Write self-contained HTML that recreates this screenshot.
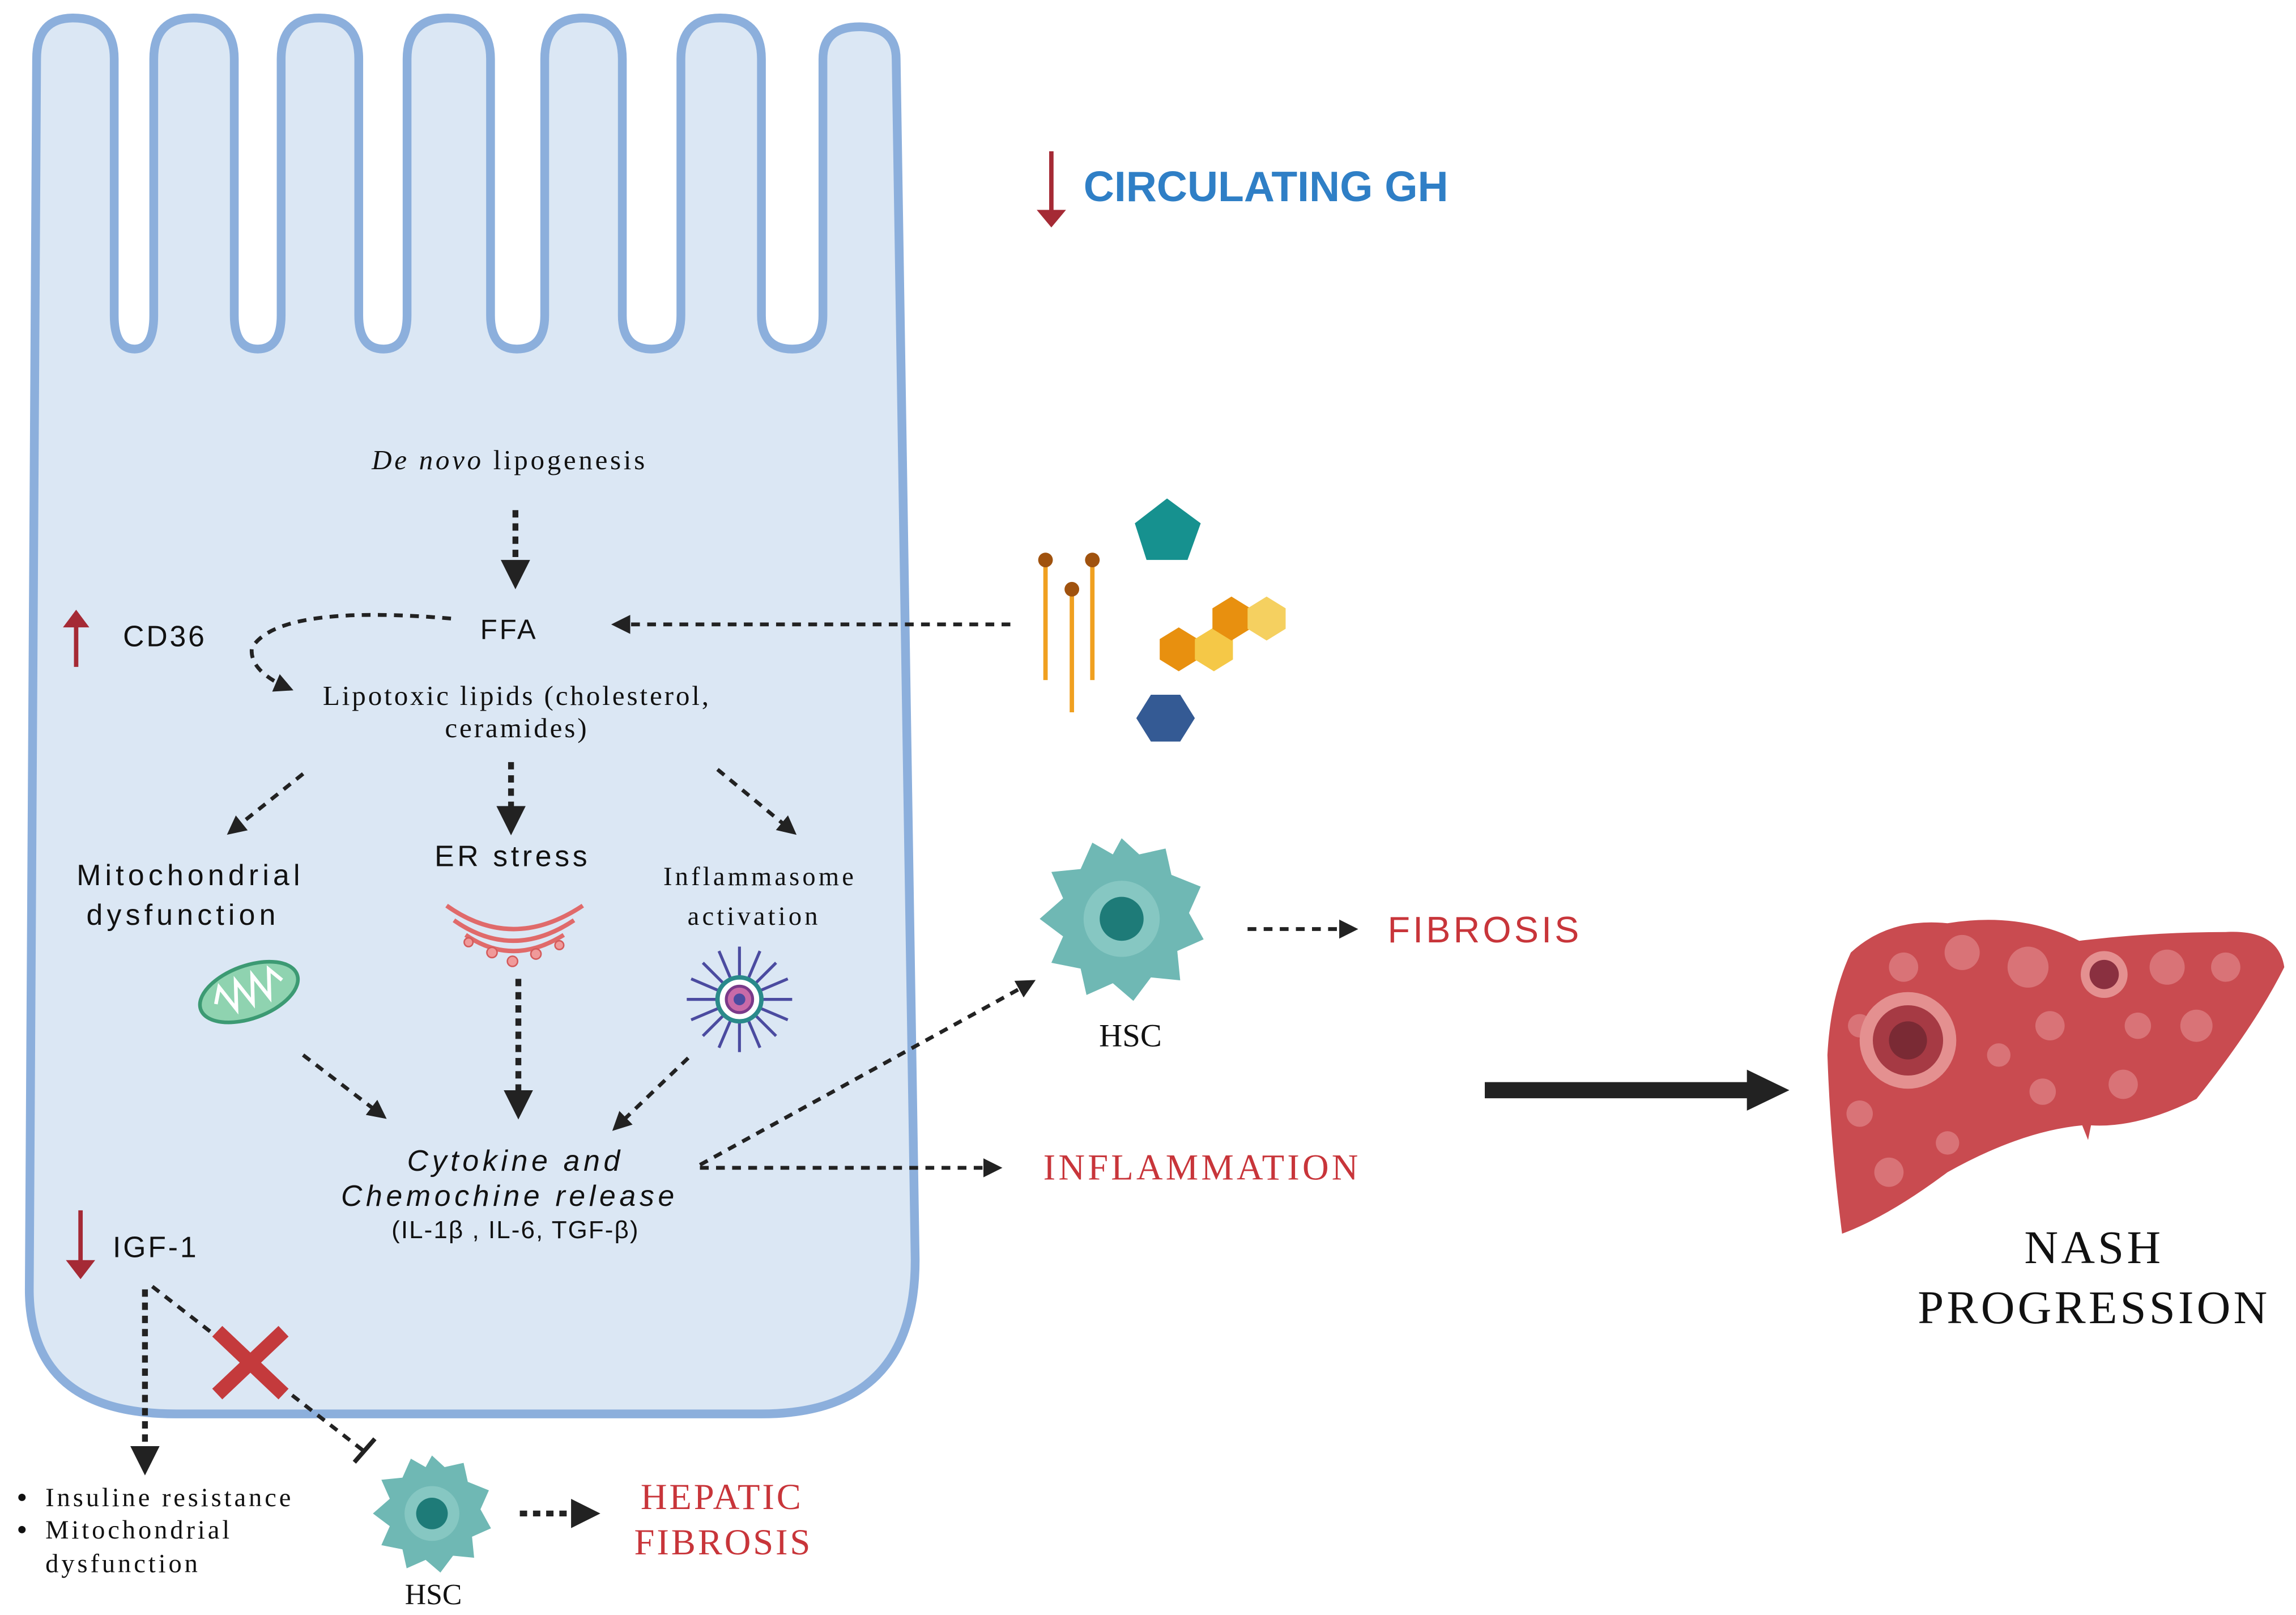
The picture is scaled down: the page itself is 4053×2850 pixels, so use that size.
<!DOCTYPE html>
<html><head><meta charset="utf-8"><style>html,body{margin:0;padding:0;background:#fff}svg{display:block}</style></head>
<body>
<svg width="4053" height="2850" viewBox="0 0 1568 1102" xmlns="http://www.w3.org/2000/svg">
<defs>
<marker id="ah" viewBox="0 0 10 10" refX="8" refY="5" markerWidth="5" markerHeight="5" orient="auto-start-reverse"><path d="M0,0 L10,5 L0,10 z" fill="#222"/></marker>
</defs>
<!-- cell -->
<path d="M20 880 L25 40 Q25 12 50 12 Q78 12 78 40 L78 215 Q78 238 92 238 Q105 238 105 215 L105 40 Q105 12 132 12 Q160 12 160 40 L160 215 Q160 238 176 238 Q192 238 192 215 L192 40 Q192 12 218 12 Q245 12 245 40 L245 215 Q245 238 262 238 Q278 238 278 215 L278 40 Q278 12 306 12 Q335 12 335 40 L335 215 Q335 238 353 238 Q372 238 372 215 L372 40 Q372 12 398 12 Q425 12 425 40 L425 215 Q425 238 445 238 Q465 238 465 215 L465 40 Q465 12 492 12 Q520 12 520 40 L520 215 Q520 238 541 238 Q562 238 562 215 L562 40 Q562 18 587 18 Q612 18 612 40 L625 860 Q625 965 520 965 L120 965 Q20 965 20 880 Z" fill="#dbe7f4" stroke="#8cafdc" stroke-width="6"/>

<g font-family="Liberation Serif, serif" fill="#111">
<text x="348" y="320" font-size="19" text-anchor="middle" letter-spacing="1.8"><tspan font-style="italic">De novo</tspan> lipogenesis</text>
<text x="353" y="481" font-size="19" text-anchor="middle" letter-spacing="1.5">Lipotoxic lipids (cholesterol,</text>
<text x="353" y="503" font-size="19" text-anchor="middle" letter-spacing="1.5">ceramides)</text>
<text x="519" y="604" font-size="18" text-anchor="middle" letter-spacing="2">Inflammasome</text>
<text x="515" y="631" font-size="18" text-anchor="middle" letter-spacing="2">activation</text>
<text x="772" y="714" font-size="22" text-anchor="middle">HSC</text>
<text x="296" y="1095" font-size="20" text-anchor="middle">HSC</text>
<text x="821" y="805" font-size="25" fill="#c8353a" text-anchor="middle" letter-spacing="2">INFLAMMATION</text>
<text x="493" y="1030" font-size="25" fill="#c8353a" text-anchor="middle" letter-spacing="1.5">HEPATIC</text>
<text x="494" y="1061" font-size="25" fill="#c8353a" text-anchor="middle" letter-spacing="1.5">FIBROSIS</text>
<text x="1430" y="862" font-size="32" text-anchor="middle" letter-spacing="2">NASH</text>
<text x="1430" y="903" font-size="32" text-anchor="middle" letter-spacing="2">PROGRESSION</text>
<text x="31" y="1028" font-size="18" letter-spacing="1.9">Insuline resistance</text>
<text x="31" y="1050" font-size="18" letter-spacing="1.9">Mitochondrial</text>
<text x="31" y="1073" font-size="18" letter-spacing="1.9">dysfunction</text>
<circle cx="15" cy="1022" r="2.5" fill="#111"/><circle cx="15" cy="1044" r="2.5" fill="#111"/>
</g>
<g font-family="Liberation Sans, sans-serif" fill="#111">
<text x="84" y="441" font-size="20" letter-spacing="1.5">CD36</text>
<text x="328" y="436" font-size="19" letter-spacing="1.5">FFA</text>
<text x="130" y="604" font-size="20" text-anchor="middle" letter-spacing="2.8">Mitochondrial</text>
<text x="125" y="631" font-size="20" text-anchor="middle" letter-spacing="2.8">dysfunction</text>
<text x="350" y="591" font-size="20" text-anchor="middle" letter-spacing="2.2">ER stress</text>
<text x="352" y="799" font-size="20" text-anchor="middle" font-style="italic" letter-spacing="2.6">Cytokine and</text>
<text x="348" y="823" font-size="20" text-anchor="middle" font-style="italic" letter-spacing="2.6">Chemochine release</text>
<text x="352" y="845" font-size="17" text-anchor="middle" letter-spacing="0.8">(IL-1β , IL-6, TGF-β)</text>
<text x="77" y="858" font-size="20" letter-spacing="1.5">IGF-1</text>
<text x="1014" y="643" font-size="25" fill="#c8353a" text-anchor="middle" letter-spacing="2">FIBROSIS</text>
<text x="740" y="137" font-size="29" font-weight="bold" fill="#2f7fc6">CIRCULATING GH</text>
</g>

<!-- red arrows -->
<g stroke="#a52a35" stroke-width="3" fill="#a52a35">
<line x1="718" y1="103" x2="718" y2="145"/><path d="M708,143 L728,143 L718,155 Z" stroke="none"/>
<line x1="52" y1="455" x2="52" y2="425"/><path d="M43,428 L61,428 L52,416 Z" stroke="none"/>
<line x1="55" y1="826" x2="55" y2="862"/><path d="M45,860 L65,860 L55,873 Z" stroke="none"/>
</g>

<!-- dashed arrows -->
<g stroke="#222" stroke-width="2.6" fill="none" stroke-dasharray="6,5" marker-end="url(#ah)">
<line x1="352" y1="348" x2="352" y2="398" stroke-width="4" stroke-dasharray="5,4"/>
<line x1="690" y1="426" x2="420" y2="426"/>
<path d="M308 422 Q190 412 172 442 Q170 458 198 470"/>
<line x1="207" y1="528" x2="157" y2="568"/>
<line x1="349" y1="520" x2="349" y2="566" stroke-width="4" stroke-dasharray="5,4"/>
<line x1="490" y1="525" x2="542" y2="568"/>
<line x1="207" y1="720" x2="262" y2="762"/>
<line x1="354" y1="668" x2="354" y2="760" stroke-width="4" stroke-dasharray="5,4"/>
<line x1="470" y1="722" x2="420" y2="770"/>
<line x1="478" y1="795" x2="705" y2="670"/>
<line x1="478" y1="797" x2="682" y2="797"/>
<line x1="852" y1="634" x2="925" y2="634"/>
<line x1="99" y1="880" x2="99" y2="1003" stroke-width="4" stroke-dasharray="5,4"/>
<line x1="355" y1="1033" x2="406" y2="1033" stroke-width="4" stroke-dasharray="5,4"/>
</g>
<line x1="104" y1="878" x2="248" y2="990" stroke="#222" stroke-width="2.6" stroke-dasharray="6,5"/>
<line x1="242" y1="998" x2="256" y2="982" stroke="#222" stroke-width="3"/>
<!-- X -->
<g stroke="#c43a3c" stroke-width="10" stroke-linecap="square"><line x1="152" y1="912" x2="190" y2="948"/><line x1="190" y1="912" x2="152" y2="948"/></g>
<!-- big arrow -->
<line x1="1014" y1="744" x2="1196" y2="744" stroke="#222" stroke-width="11"/>
<path d="M1193,730 L1222,744 L1193,758 Z" fill="#222"/>

<!-- molecules -->
<g stroke="#f0a020" stroke-width="3"><line x1="714" y1="382" x2="714" y2="464"/><line x1="746" y1="382" x2="746" y2="464"/><line x1="732" y1="402" x2="732" y2="486"/></g>
<g fill="#a0520e"><circle cx="714" cy="382" r="5"/><circle cx="746" cy="382" r="5"/><circle cx="732" cy="402" r="5"/></g>
<polygon points="797,340 820,357 811,382 783,382 775,357" fill="#16918f"/>
<g>
<polygon points="805,428 818,436 818,450 805,458 792,450 792,436" fill="#e8900f"/>
<polygon points="829,428 842,436 842,450 829,458 816,450 816,436" fill="#f5c847"/>
<polygon points="841,407 854,415 854,429 841,437 828,429 828,415" fill="#e8900f"/>
<polygon points="865,407 878,415 878,429 865,437 852,429 852,415" fill="#f5d060"/>
</g>
<polygon points="786,474 806,474 816,490 806,506 786,506 776,490" fill="#345a94"/>

<!-- mito -->
<g transform="translate(170,677) rotate(-20)"><ellipse rx="35" ry="18" fill="#8fd3b0" stroke="#3c9a73" stroke-width="2.5"/><path d="M-24 0 L-18 -10 L-12 8 L-6 -10 L0 8 L6 -10 L12 8 L18 -10 L24 0" stroke="#fff" stroke-width="2.5" fill="none"/></g>
<!-- ER -->
<g stroke="#e06a6a" fill="none" stroke-width="3">
<path d="M305 618 Q350 650 398 618"/><path d="M310 628 Q350 656 392 628"/><path d="M318 638 Q350 660 385 638"/>
</g>
<g fill="#f09a9a" stroke="#d45a5a" stroke-width="1"><circle cx="336" cy="650" r="3.5"/><circle cx="350" cy="656" r="3.5"/><circle cx="366" cy="651" r="3.5"/><circle cx="382" cy="645" r="3"/><circle cx="320" cy="643" r="3"/></g>
<!-- inflammasome -->
<g transform="translate(505,682)" stroke="#4b4ba0" stroke-width="2">
<line x1="0" y1="-36" x2="0" y2="36"/><line x1="-36" y1="0" x2="36" y2="0"/><line x1="-25" y1="-25" x2="25" y2="25"/><line x1="-25" y1="25" x2="25" y2="-25"/>
<line x1="-14" y1="-33" x2="14" y2="33"/><line x1="14" y1="-33" x2="-14" y2="33"/><line x1="-33" y1="-14" x2="33" y2="14"/><line x1="-33" y1="14" x2="33" y2="-14"/>
<circle r="15" fill="#fff" stroke="#2a8a8a" stroke-width="3"/><circle r="9" fill="#c86aa8" stroke="#7a3a8a"/><circle r="4" fill="#4b4ba0" stroke="none"/>
</g>
<!-- HSC cells -->
<g transform="translate(766,627)">
<path d="M0,-55 L12,-44 L30,-48 L34,-30 L54,-22 L46,-4 L56,14 L38,22 L40,42 L20,40 L8,56 L-6,44 L-24,52 L-28,34 L-48,30 L-40,12 L-56,0 L-40,-14 L-48,-32 L-28,-34 L-20,-52 L-6,-44 Z" fill="#6fb8b4"/>
<circle r="26" fill="#86c7c2"/><circle r="15" fill="#1e7b78"/>
</g>
<g transform="translate(295,1033) scale(0.72)">
<path d="M0,-55 L12,-44 L30,-48 L34,-30 L54,-22 L46,-4 L56,14 L38,22 L40,42 L20,40 L8,56 L-6,44 L-24,52 L-28,34 L-48,30 L-40,12 L-56,0 L-40,-14 L-48,-32 L-28,-34 L-20,-52 L-6,-44 Z" fill="#6fb8b4"/>
<circle r="26" fill="#86c7c2"/><circle r="15" fill="#1e7b78"/>
</g>

<!-- liver -->
<path d="M1264 650 Q1290 626 1330 630 Q1380 622 1420 642 Q1470 636 1520 636 Q1556 634 1560 660 Q1540 700 1500 750 Q1460 770 1428 768 L1426 778 L1422 768 Q1380 772 1330 800 Q1290 830 1258 842 Q1250 780 1248 720 Q1250 680 1264 650 Z" fill="#c94b50"/>
<g fill="#dc7a7e" opacity="0.85">
<circle cx="1300" cy="660" r="10"/><circle cx="1340" cy="650" r="12"/><circle cx="1385" cy="660" r="14"/><circle cx="1400" cy="700" r="10"/><circle cx="1365" cy="720" r="8"/><circle cx="1480" cy="660" r="12"/><circle cx="1520" cy="660" r="10"/><circle cx="1460" cy="700" r="9"/><circle cx="1500" cy="700" r="11"/><circle cx="1450" cy="740" r="10"/><circle cx="1270" cy="760" r="9"/><circle cx="1290" cy="800" r="10"/><circle cx="1330" cy="780" r="8"/><circle cx="1395" cy="745" r="9"/><circle cx="1270" cy="700" r="8"/>
</g>
<circle cx="1303" cy="710" r="33" fill="#e49090"/><circle cx="1303" cy="710" r="24" fill="#a63a44"/><circle cx="1303" cy="710" r="13" fill="#7a2a34"/>
<circle cx="1437" cy="665" r="16" fill="#e49090"/><circle cx="1437" cy="665" r="10" fill="#8a3040"/>
</svg>
</body></html>
